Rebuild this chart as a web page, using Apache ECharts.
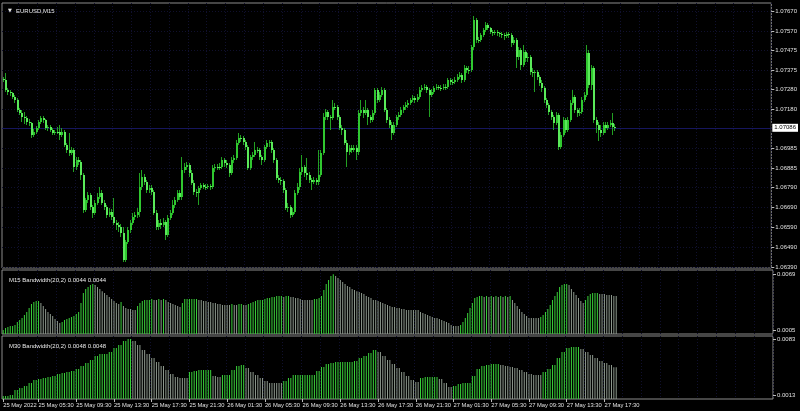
<!DOCTYPE html>
<html><head><meta charset="utf-8">
<script src="https://cdn.jsdelivr.net/npm/echarts@6/dist/echarts.min.js"></script>
<style>html,body{margin:0;padding:0;background:#000}#c{width:800px;height:411px}</style>
</head><body><div id="c"></div><script>
const symbolTitle = 'EURUSD,M15';
const bw15Title = 'M15 Bandwidth(20,2) 0.0044 0.0044';
const bw30Title = 'M30 Bandwidth(20,2) 0.0048 0.0048';
const startTimeUTC = [2022, 4, 25, 1, 45];
const totalSlots = 327;
const tickLabels = ["25 May 2022","25 May 05:30","25 May 09:30","25 May 13:30","25 May 17:30","25 May 21:30","26 May 01:30","26 May 05:30","26 May 09:30","26 May 13:30","26 May 17:30","26 May 21:30","27 May 01:30","27 May 05:30","27 May 09:30","27 May 13:30","27 May 17:30"];
const priceLabels = [1.0767,1.0757,1.07475,1.07375,1.0728,1.0718,1.06985,1.06885,1.0679,1.0669,1.0659,1.0649,1.0639];
const priceGrid = [1.0767,1.0757,1.07475,1.07375,1.0728,1.0718,1.07085,1.06985,1.06885,1.0679,1.0669,1.0659,1.0649,1.0639];
const lastPrice = 1.07086;
const bw15Labels = [0.0069, 0.0005];
const bw30Labels = [0.0083, 0.0013];
// [open, close, low, high]
const candles = [
[1.0733,1.07325,1.07315,1.0734],[1.07325,1.07275,1.07265,1.0736],[1.07275,1.07265,1.0725,1.07285],[1.07265,1.0726,1.07245,1.07275],[1.0726,1.0724,1.0723,1.07265],
[1.0724,1.07225,1.0721,1.0725],[1.07225,1.07175,1.07165,1.07235],[1.07175,1.0716,1.0715,1.07185],[1.0716,1.0714,1.07115,1.07175],[1.0714,1.07135,1.07105,1.07165],
[1.07135,1.07115,1.071,1.07145],[1.07115,1.0711,1.07095,1.0713],[1.0711,1.0705,1.07035,1.07115],[1.0705,1.07065,1.0704,1.0708],[1.07065,1.07085,1.07055,1.07095],
[1.07085,1.07115,1.07075,1.07125],[1.07115,1.07135,1.07105,1.07145],[1.07135,1.07125,1.0711,1.07145],[1.07125,1.07085,1.07075,1.0713],[1.07085,1.0709,1.0707,1.071],
[1.0709,1.07075,1.07065,1.071],[1.07075,1.0706,1.0705,1.07085],[1.0706,1.07065,1.0705,1.07075],[1.07065,1.07065,1.07055,1.0709],[1.07065,1.0705,1.07025,1.071],
[1.0705,1.07065,1.0704,1.07085],[1.07065,1.07,1.0699,1.07075],[1.07,1.06975,1.0696,1.0701],[1.06975,1.0696,1.06945,1.0706],[1.0696,1.06975,1.0695,1.0699],
[1.06975,1.0689,1.06865,1.06985],[1.0689,1.06925,1.06875,1.0694],[1.06925,1.06915,1.069,1.0694],[1.06915,1.0685,1.06825,1.06925],[1.0685,1.06675,1.0666,1.0686],
[1.06675,1.06725,1.06665,1.06735],[1.06725,1.0675,1.0671,1.06765],[1.0675,1.0669,1.06675,1.0676],[1.0669,1.0666,1.06635,1.067],[1.0666,1.0671,1.0665,1.06725],
[1.0671,1.0674,1.067,1.0676],[1.0674,1.0676,1.0673,1.0679],[1.0676,1.0671,1.067,1.06775],[1.0671,1.0669,1.06675,1.06725],[1.0669,1.0665,1.06635,1.067],
[1.0665,1.06665,1.0664,1.06685],[1.06665,1.0664,1.06625,1.0668],[1.0664,1.0661,1.066,1.06735],[1.0661,1.066,1.06575,1.06625],[1.066,1.0659,1.06565,1.06615],
[1.0659,1.0656,1.0654,1.06605],[1.0656,1.06425,1.06415,1.0659],[1.06425,1.06515,1.06415,1.06525],[1.06515,1.06575,1.06505,1.0659],[1.06575,1.0661,1.0656,1.06625],
[1.0661,1.0664,1.066,1.0666],[1.0664,1.0665,1.06625,1.06665],[1.0665,1.06665,1.06635,1.06685],[1.06665,1.0679,1.0664,1.0686],[1.0679,1.0684,1.06775,1.06875],
[1.0684,1.06815,1.068,1.06855],[1.06815,1.06775,1.0676,1.06825],[1.06775,1.06785,1.0676,1.068],[1.06785,1.06765,1.0675,1.068],[1.06765,1.0666,1.0665,1.06775],
[1.0666,1.0659,1.06575,1.06675],[1.0659,1.0661,1.06575,1.06625],[1.0661,1.066,1.0658,1.0663],[1.066,1.06615,1.0659,1.06635],[1.06615,1.0655,1.06525,1.06625],
[1.0655,1.06635,1.0654,1.0665],[1.06635,1.0666,1.06625,1.06675],[1.0666,1.067,1.0665,1.06725],[1.067,1.06725,1.06685,1.0674],[1.06725,1.0676,1.06715,1.06775],
[1.0676,1.0674,1.06725,1.06775],[1.0674,1.06875,1.06725,1.0694],[1.06875,1.0689,1.0686,1.0691],[1.0689,1.069,1.06875,1.06915],[1.069,1.0686,1.0684,1.0691],
[1.0686,1.0681,1.068,1.06875],[1.0681,1.06765,1.0675,1.06825],[1.06765,1.0676,1.0674,1.0678],[1.0676,1.06785,1.067,1.06795],[1.06785,1.068,1.06775,1.0681],
[1.068,1.0679,1.0678,1.0681],[1.0679,1.0679,1.06775,1.06805],[1.0679,1.06795,1.0678,1.06805],[1.06795,1.0679,1.06775,1.06805],[1.0679,1.06885,1.0678,1.069],
[1.06885,1.0689,1.06865,1.06905],[1.0689,1.0689,1.06875,1.06905],[1.0689,1.0689,1.06875,1.0691],[1.0689,1.06925,1.0688,1.0694],[1.06925,1.0691,1.0689,1.06935],
[1.0691,1.069,1.06885,1.06925],[1.069,1.0686,1.0684,1.0691],[1.0686,1.06925,1.0685,1.0694],[1.06925,1.06935,1.0691,1.0695],[1.06935,1.0701,1.06925,1.07025],
[1.0701,1.07035,1.07,1.0706],[1.07035,1.07035,1.07015,1.0705],[1.07035,1.07015,1.07,1.07045],[1.07015,1.0699,1.06975,1.07025],[1.0699,1.06885,1.06875,1.07],
[1.06885,1.0694,1.06875,1.0695],[1.0694,1.0695,1.06925,1.06965],[1.0695,1.06975,1.0694,1.07015],[1.06975,1.06975,1.0696,1.0699],[1.06975,1.0694,1.06925,1.06985],
[1.0694,1.06925,1.069,1.0695],[1.06925,1.0699,1.06915,1.07],[1.0699,1.0701,1.0698,1.07025],[1.0701,1.07015,1.0699,1.07025],[1.07015,1.06975,1.0696,1.07025],
[1.06975,1.06925,1.0691,1.06985],[1.06925,1.06835,1.06825,1.06935],[1.06835,1.06825,1.0681,1.0685],[1.06825,1.0682,1.068,1.0684],[1.0682,1.06775,1.0676,1.0683],
[1.06775,1.06685,1.06675,1.06785],[1.06685,1.0669,1.06665,1.0671],[1.0669,1.0665,1.06635,1.067],[1.0665,1.06665,1.0664,1.06685],[1.06665,1.0676,1.06655,1.06775],
[1.0676,1.0679,1.0675,1.0681],[1.0679,1.06865,1.06775,1.06885],[1.06865,1.0689,1.0685,1.0695],[1.0689,1.0686,1.0684,1.069],[1.0686,1.0685,1.06825,1.06935],
[1.0685,1.06825,1.0681,1.06865],[1.06825,1.06815,1.06775,1.06835],[1.06815,1.06825,1.06805,1.0684],[1.06825,1.06815,1.068,1.06835],[1.06815,1.0685,1.068,1.06975],
[1.0685,1.0696,1.0684,1.06975],[1.0696,1.0714,1.0695,1.0716],[1.0714,1.07165,1.07125,1.0718],[1.07165,1.0714,1.07125,1.07175],[1.0714,1.07135,1.07075,1.0715],
[1.07135,1.0719,1.07125,1.07225],[1.0719,1.0719,1.07175,1.0721],[1.0719,1.0714,1.07125,1.072],[1.0714,1.07085,1.07075,1.0715],[1.07085,1.07075,1.0705,1.071],
[1.07075,1.0701,1.07,1.07085],[1.0701,1.06965,1.0689,1.07025],[1.06965,1.06985,1.0695,1.07],[1.06985,1.06975,1.0696,1.07],[1.06975,1.06985,1.06965,1.07],
[1.06985,1.06965,1.06925,1.07],[1.06965,1.0716,1.0695,1.07175],[1.0716,1.07175,1.07145,1.07225],[1.07175,1.0716,1.07135,1.0719],[1.0716,1.07175,1.0715,1.07225],
[1.07175,1.0714,1.071,1.07185],[1.0714,1.07125,1.0711,1.0715],[1.07125,1.0716,1.07115,1.07175],[1.0716,1.07275,1.0715,1.07285],[1.07275,1.07225,1.0721,1.07285],
[1.07225,1.0725,1.07215,1.07265],[1.0725,1.07275,1.0724,1.0729],[1.07275,1.07175,1.07165,1.07285],[1.07175,1.07125,1.0711,1.07185],[1.07125,1.071,1.07085,1.0714],
[1.071,1.0706,1.07025,1.07115],[1.0706,1.071,1.0705,1.07115],[1.071,1.0714,1.0709,1.0715],[1.0714,1.0715,1.07125,1.07165],[1.0715,1.07175,1.0714,1.0719],
[1.07175,1.0719,1.0716,1.072],[1.0719,1.072,1.07175,1.07215],[1.072,1.0721,1.07185,1.07225],[1.0721,1.07225,1.072,1.07235],[1.07225,1.07235,1.07215,1.0725],
[1.07235,1.07225,1.0721,1.07245],[1.07225,1.0724,1.07215,1.07255],[1.0724,1.07275,1.0723,1.0729],[1.07275,1.07285,1.07265,1.073],[1.07285,1.0729,1.07275,1.07305],
[1.0729,1.07275,1.0726,1.073],[1.07275,1.0725,1.0714,1.07285],[1.0725,1.07265,1.0724,1.0728],[1.07265,1.07285,1.07255,1.07295],[1.07285,1.0729,1.07275,1.07305],
[1.0729,1.07285,1.07275,1.073],[1.07285,1.07285,1.0727,1.073],[1.07285,1.0729,1.07275,1.07305],[1.0729,1.0729,1.07275,1.07305],[1.0729,1.07325,1.0728,1.07335],
[1.07325,1.07315,1.073,1.07335],[1.07315,1.07315,1.073,1.0733],[1.07315,1.07325,1.07305,1.0734],[1.07325,1.0734,1.07315,1.07355],[1.0734,1.0735,1.0733,1.07365],
[1.0735,1.07325,1.0731,1.0736],[1.07325,1.07385,1.07315,1.074],[1.07385,1.07375,1.0736,1.07395],[1.07375,1.07375,1.07355,1.07395],[1.07375,1.0749,1.07365,1.075],
[1.0749,1.07625,1.07475,1.07645],[1.07625,1.07525,1.0751,1.07635],[1.07525,1.07525,1.0751,1.0754],[1.07525,1.0755,1.07515,1.0756],[1.0755,1.07575,1.0754,1.07585],
[1.07575,1.076,1.07565,1.07615],[1.076,1.07585,1.07575,1.0761],[1.07585,1.07565,1.07555,1.0759],[1.07565,1.0756,1.07545,1.07575],[1.0756,1.07565,1.0755,1.07575],
[1.07565,1.0756,1.07545,1.07575],[1.0756,1.07555,1.0754,1.07565],[1.07555,1.0755,1.07535,1.07565],[1.0755,1.07545,1.07525,1.0756],[1.07545,1.07555,1.07535,1.07565],
[1.07555,1.0755,1.07535,1.07565],[1.0755,1.0751,1.0749,1.0756],[1.0751,1.07525,1.075,1.0754],[1.07525,1.0744,1.07385,1.07535],[1.0744,1.07475,1.07425,1.0749],
[1.07475,1.074,1.07375,1.07485],[1.074,1.07465,1.0739,1.075],[1.07465,1.07435,1.07415,1.07475],[1.07435,1.0744,1.07415,1.0746],[1.0744,1.07365,1.0735,1.0745],
[1.07365,1.0736,1.0734,1.07385],[1.0736,1.07365,1.07265,1.07375],[1.07365,1.0734,1.07325,1.07375],[1.0734,1.0731,1.07295,1.0735],[1.0731,1.07285,1.07265,1.07325],
[1.07285,1.07225,1.0721,1.07295],[1.07225,1.072,1.07185,1.07235],[1.072,1.07165,1.0715,1.0721],[1.07165,1.0714,1.07125,1.07175],[1.0714,1.0711,1.07075,1.0715],
[1.0711,1.0715,1.071,1.07165],[1.0715,1.0699,1.06975,1.0716],[1.0699,1.0705,1.0698,1.07065],[1.0705,1.07125,1.0704,1.0714],[1.07125,1.07075,1.0706,1.07135],
[1.07075,1.07125,1.07065,1.0714],[1.07125,1.0721,1.07115,1.07225],[1.0721,1.0724,1.072,1.07275],[1.0724,1.07175,1.0716,1.0725],[1.07175,1.0716,1.0714,1.07185],
[1.0716,1.07165,1.07145,1.07185],[1.07165,1.07225,1.07155,1.0724],[1.07225,1.0725,1.07215,1.07265],[1.0725,1.0746,1.0724,1.075],[1.0746,1.073,1.07285,1.07475],
[1.073,1.07385,1.07275,1.074],[1.07385,1.07125,1.0711,1.07395],[1.07125,1.071,1.0706,1.0714],[1.071,1.07075,1.0702,1.07115],[1.07075,1.0706,1.0704,1.071],
[1.0706,1.071,1.0705,1.07115],[1.071,1.07085,1.0706,1.07115],[1.07085,1.071,1.07075,1.07115],[1.071,1.0711,1.0709,1.07125],[1.0711,1.0709,1.0705,1.0716],
[1.0709,1.07086,1.0707,1.07105]
];
const bw15 = [
.00058,.00081,.00092,.00103,.00103,.00115,.00149,.00171,.00194,.00228,
.00262,.00308,.00353,.00376,.00387,.00387,.00364,.0033,.00296,.00262,
.00239,.00217,.00183,.0016,.00137,.00149,.00171,.00183,.00194,.00205,
.00217,.00239,.00262,.00364,.00478,.00523,.00546,.00569,.0058,.00569,
.00546,.00523,.005,.00478,.00455,.00432,.0041,.00387,.00364,.00353,
.00376,.0033,.00308,.00296,.00296,.00285,.00285,.0033,.00364,.00387,
.00398,.00398,.00398,.0041,.00398,.00398,.0041,.00398,.0041,.00398,
.00376,.00364,.00353,.00342,.0033,.00319,.00364,.0041,.0041,.0041,
.0041,.0041,.0041,.00398,.00398,.00387,.00387,.00376,.00376,.00364,
.00364,.00353,.00353,.00342,.00342,.00342,.00342,.00353,.00342,.00342,
.00353,.00353,.00342,.00342,.00353,.00364,.00376,.00387,.00398,.00398,
.00398,.0041,.00421,.00421,.00432,.00432,.00444,.00444,.00444,.00432,
.00444,.00444,.00432,.00432,.00421,.00421,.0041,.00398,.00398,.00398,
.00398,.00398,.0041,.0041,.00421,.00444,.00512,.0058,.00625,.00671,
.00693,.00671,.00648,.00625,.00603,.0058,.00557,.00546,.00523,.00512,
.005,.00489,.00478,.00466,.00444,.00432,.00421,.00398,.00398,.00387,
.00376,.00364,.00353,.00342,.0033,.00319,.00319,.00308,.00308,.00296,
.00296,.00285,.00285,.00285,.00285,.00285,.00285,.00262,.00251,.00239,
.00228,.00217,.00205,.00194,.00194,.00183,.00171,.0016,.00149,.00137,
.00115,.00103,.00103,.00103,.00115,.00149,.00194,.00251,.00308,.00364,
.00421,.00432,.00444,.00444,.00432,.00444,.00432,.00444,.00432,.00444,
.00432,.00444,.00432,.00444,.00432,.00444,.00398,.00364,.0033,.00296,
.00262,.00239,.00217,.00194,.00194,.00194,.00194,.00194,.00205,.00228,
.00262,.00296,.00342,.00398,.00444,.00489,.00546,.00569,.0058,.0058,
.00569,.00523,.00489,.00455,.00421,.00387,.00364,.00398,.00444,.00466,
.00478,.00478,.00478,.00466,.00466,.00466,.00455,.00455,.00455,.00444,.00444
];
const bw30 = [
.00117,.00117,.00117,.0013,.0013,.00193,.00193,.00219,.00219,.00244,
.00244,.00282,.00282,.0032,.0032,.00333,.00333,.00345,.00345,.00358,
.00358,.00371,.00371,.00396,.00396,.00408,.00408,.00421,.00421,.00434,
.00434,.00459,.00459,.00497,.00497,.00535,.00535,.00573,.00573,.00624,
.00624,.00649,.00649,.00649,.00649,.00674,.00674,.00725,.00725,.00763,
.00763,.00814,.00814,.00839,.00839,.00814,.00814,.00763,.00763,.007,
.007,.00649,.00649,.00598,.00598,.00548,.00548,.00497,.00497,.00446,
.00446,.00396,.00396,.00358,.00358,.00345,.00345,.00345,.00345,.00421,
.00421,.00434,.00434,.00446,.00446,.00446,.00446,.00446,.00446,.00371,
.00371,.00358,.00358,.00383,.00383,.00383,.00383,.00446,.00446,.00497,
.00497,.0051,.0051,.00472,.00472,.00421,.00421,.00383,.00383,.00345,
.00345,.00307,.00307,.00282,.00282,.00282,.00282,.00282,.00282,.00307,
.00307,.00345,.00345,.00383,.00383,.00383,.00383,.00383,.00383,.00383,
.00383,.00383,.00383,.00434,.00434,.00484,.00484,.00522,.00522,.00535,
.00535,.00548,.00548,.00548,.00548,.00548,.00548,.00548,.00548,.0056,
.0056,.00598,.00598,.00624,.00624,.00662,.00662,.007,.007,.00674,
.00674,.00624,.00624,.00573,.00573,.00522,.00522,.00472,.00472,.00421,
.00421,.00371,.00371,.0032,.0032,.00295,.00295,.00345,.00345,.00358,
.00358,.00358,.00358,.00358,.00358,.00333,.00333,.00282,.00282,.00231,
.00231,.00244,.00244,.00269,.00269,.00282,.00282,.00282,.00282,.00371,
.00371,.00459,.00459,.00497,.00497,.0051,.0051,.00522,.00522,.00522,
.00522,.0051,.0051,.00497,.00497,.00484,.00484,.00472,.00472,.00446,
.00446,.00421,.00421,.00396,.00396,.00383,.00383,.00383,.00383,.00421,
.00421,.00459,.00459,.0051,.0051,.00598,.00598,.00674,.00674,.00725,
.00725,.00738,.00738,.00738,.00738,.00712,.00712,.00674,.00674,.00636,
.00636,.00598,.00598,.0056,.0056,.00535,.00535,.0051,.0051,.0048,.0048
];

const FONT = 'Liberation Sans';
const MONTHS = ['Jan','Feb','Mar','Apr','May','Jun','Jul','Aug','Sep','Oct','Nov','Dec'];
const pad = n => (n < 10 ? '0' : '') + n;
const t0 = Date.UTC.apply(null, startTimeUTC);
const categories = [];
for (let i = 0; i < totalSlots; i++) {
  const d = new Date(t0 + i * 900000);
  categories.push(d.getUTCDate() + ' ' + MONTHS[d.getUTCMonth()] + ' ' + pad(d.getUTCHours()) + ':' + pad(d.getUTCMinutes()));
}
const tickSet = new Set(tickLabels);
const labelShown = i => i === 0 || (i < candles.length && tickSet.has(categories[i]));
const gridLineAt = i => i % 8 === 7;

function histData(arr) {
  let col = '#3ad23a';
  return arr.map((v, i) => {
    if (i > 0 && v > arr[i - 1]) col = '#3ad23a';
    else if (i > 0 && v < arr[i - 1]) col = '#8e9a8e';
    return { value: v, itemStyle: { color: col } };
  });
}

const GRIDCOL = '#10102e';
const gridDef = { left: 2, right: 27, show: true, borderColor: '#8c8c8c', borderWidth: 1, backgroundColor: 'transparent' };
const splitV = { show: true, interval: gridLineAt, lineStyle: { color: GRIDCOL, type: [1, 2], width: 1 } };
function xAx(idx, showLabels) {
  return {
    type: 'category', gridIndex: idx, data: categories, boundaryGap: true,
    axisLine: { show: false },
    axisTick: showLabels ? { show: true, interval: labelShown, alignWithLabel: true, length: 3, lineStyle: { color: '#bbb' } } : { show: false },
    axisLabel: showLabels ? {
      show: true, interval: labelShown, align: 'left', margin: 3, color: '#e0e0e0', fontSize: 5.8, fontFamily: FONT,
      formatter: (v, i) => (i === 0 ? tickLabels[0] : v)
    } : { show: false },
    splitLine: splitV
  };
}
function yAx(idx, min, max, labels, fmt, grid) {
  return {
    type: 'value', gridIndex: idx, position: 'right', min: min, max: max, scale: true,
    axisLine: { show: false },
    axisTick: { show: true, length: 3, customValues: grid || labels, lineStyle: { color: '#bbb' } },
    axisLabel: { show: true, customValues: labels, margin: 4, color: '#e0e0e0', fontSize: 6, fontFamily: FONT, formatter: v => v.toFixed(fmt) },
    splitLine: grid ? { show: true, lineStyle: { color: GRIDCOL, type: [1, 2], width: 1 } } : { show: false }
  };
}

const chart = echarts.init(document.getElementById('c'), null, { renderer: 'canvas' });
chart.setOption({
  backgroundColor: '#000',
  animation: false,
  title: [
    { text: '▼', left: 3, top: 3, textStyle: { color: '#e8e8e8', fontSize: 5, fontFamily: 'DejaVu Sans', fontWeight: 'normal' } },
    { text: symbolTitle, left: 11, top: 3, textStyle: { color: '#e8e8e8', fontSize: 6, fontFamily: FONT, fontWeight: 'normal' } },
    { text: bw15Title, left: 4, top: 272, textStyle: { color: '#e8e8e8', fontSize: 6, fontFamily: FONT, fontWeight: 'normal' } },
    { text: bw30Title, left: 4, top: 338, textStyle: { color: '#e8e8e8', fontSize: 6, fontFamily: FONT, fontWeight: 'normal' } }
  ],
  grid: [
    Object.assign({}, gridDef, { top: 3, height: 265 }),
    Object.assign({}, gridDef, { top: 270, height: 64 }),
    Object.assign({}, gridDef, { top: 336, height: 63 })
  ],
  xAxis: [xAx(0, false), xAx(1, false), xAx(2, true)],
  yAxis: [
    yAx(0, 1.06385, 1.0771, priceLabels, 5, priceGrid),
    yAx(1, 0.00013, 0.0074, bw15Labels, 4, null),
    yAx(2, 0.00079, 0.00877, bw30Labels, 4, null)
  ],
  series: [
    {
      type: 'line', xAxisIndex: 0, yAxisIndex: 0, data: [], silent: true, z: 1,
      markLine: {
        silent: true, symbol: 'none', animation: false, precision: 5, z: 1,
        lineStyle: { color: '#16165e', type: 'solid', width: 1 },
        label: { show: true, position: 'end', distance: 1, formatter: lastPrice.toFixed(5), color: '#000', backgroundColor: '#fff', borderColor: '#000', borderWidth: 1, padding: [1, 2], fontSize: 6, fontFamily: FONT },
        data: [{ yAxis: lastPrice }]
      }
    },
    {
      type: 'custom', xAxisIndex: 0, yAxisIndex: 0, z: 5,
      data: candles.map((d, i) => [i, d[0], d[1], d[2], d[3]]),
      encode: { x: 0, y: [1, 2, 3, 4] },
      renderItem: function (params, api) {
        const i = api.value(0);
        const o = api.value(1), c = api.value(2), l = api.value(3), h = api.value(4);
        const pO = api.coord([i, o]), pC = api.coord([i, c]);
        const pL = api.coord([i, l]), pH = api.coord([i, h]);
        const xi = Math.floor(pO[0]);
        const top = Math.min(pO[1], pC[1]), bot = Math.max(pO[1], pC[1]);
        const up = c > o;
        return {
          type: 'group', children: [
            { type: 'line', shape: { x1: xi + 0.5, y1: pH[1], x2: xi + 0.5, y2: pL[1] }, style: { stroke: '#22a022', lineWidth: 1 } },
            { type: 'rect', shape: { x: xi, y: top, width: 2, height: Math.max(1, bot - top) }, style: { fill: up ? '#30c830' : '#5aea5a' } }
          ]
        };
      }
    },
    { type: 'bar', xAxisIndex: 1, yAxisIndex: 1, barWidth: 1, data: histData(bw15) },
    { type: 'bar', xAxisIndex: 2, yAxisIndex: 2, barWidth: 1, data: histData(bw30) }
  ]
});
</script></body></html>
